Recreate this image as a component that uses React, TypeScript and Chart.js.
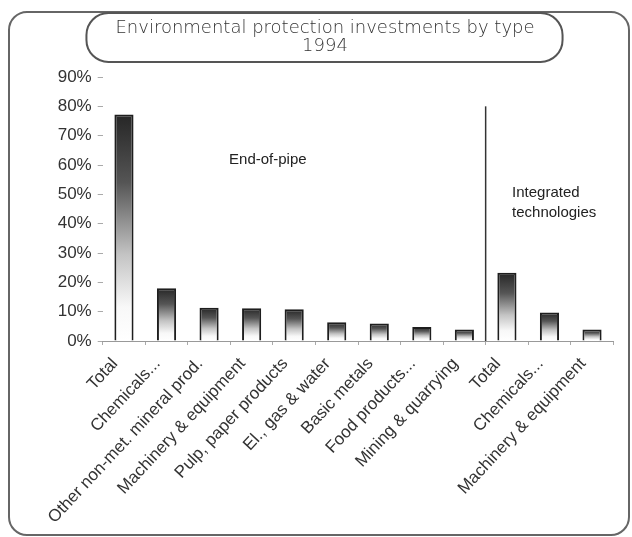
import { useEffect, useRef } from 'react';
import { Chart, registerables } from 'chart.js';

Chart.register(...registerables);

// ---- data ----
const categories = [
  'Total',
  'Chemicals...',
  'Other non-met. mineral prod.',
  'Machinery & equipment',
  'Pulp, paper products',
  'El., gas & water',
  'Basic metals',
  'Food products...',
  'Mining & quarrying',
  'Total',
  'Chemicals...',
  'Machinery & equipment',
];
const shares = [77.2, 18.0, 11.3, 11.2, 10.8, 6.4, 6.0, 4.8, 3.9, 23.3, 9.7, 3.9];
const endOfPipeCount = 9;
const yTickValues = [0, 10, 20, 30, 40, 50, 60, 70, 80, 90];
const titleLines = ['Environmental protection investments by type', '1994'];
const endOfPipeNote = ['End-of-pipe'];
const integratedNote = ['Integrated', 'technologies'];

const ARIAL = '"Liberation Sans", Arial, sans-serif';
const TITLE_FONT = '"DejaVu Sans", sans-serif';

const decorPlugin = {
  id: 'decor',
  beforeDraw(chart: any) {
    const ctx = chart.ctx;
    ctx.save();
    ctx.fillStyle = '#ffffff';
    ctx.fillRect(0, 0, chart.width, chart.height);
    ctx.strokeStyle = '#666';
    ctx.lineWidth = 2;
    ctx.beginPath();
    ctx.roundRect(9, 12, chart.width - 12, chart.height - 14, 18);
    ctx.stroke();
    ctx.restore();
  },
  afterDraw(chart: any) {
    const ctx = chart.ctx;
    const xs = chart.scales.x;
    const ys = chart.scales.y;
    ctx.save();
    // title pill
    const tb = chart.titleBlock;
    const cx = (tb.left + tb.right) / 2;
    ctx.font = `200 18px ${TITLE_FONT}`;
    const w = ctx.measureText(titleLines[0]).width;
    ctx.strokeStyle = '#555';
    ctx.lineWidth = 2;
    ctx.beginPath();
    ctx.roundRect(cx - w / 2 - 29, 13, w + 57, 49, 22);
    ctx.stroke();

    // separator line between the two groups
    const sx = xs.getPixelForValue(endOfPipeCount - 0.5);
    ctx.strokeStyle = '#333';
    ctx.lineWidth = 1.5;
    ctx.beginPath();
    ctx.moveTo(sx, ys.getPixelForValue(80));
    ctx.lineTo(sx, ys.getPixelForValue(0));
    ctx.stroke();

    // group notes
    ctx.fillStyle = '#222';
    ctx.font = `15px ${ARIAL}`;
    ctx.textAlign = 'left';
    ctx.textBaseline = 'middle';
    const drawNote = (lines: string[], xv: number, yv: number) => {
      const x = xs.getPixelForValue(xv);
      const y = ys.getPixelForValue(yv);
      lines.forEach((l, i) => ctx.fillText(l, x, y + i * 20));
    };
    drawNote(endOfPipeNote, 2.47, 61.7);
    drawNote(integratedNote, 9.12, 50.5);
    ctx.restore();
  },
};

function barGradient(c: any) {
  const chart = c.chart;
  const ys = chart.scales && chart.scales.y;
  if (!ys || c.type !== 'data' || typeof c.raw !== 'number') return '#ffffff';
  const top = ys.getPixelForValue(c.raw);
  const bot = ys.getPixelForValue(0);
  if (!isFinite(top) || !isFinite(bot) || bot - top < 1) return '#ffffff';
  const g = chart.ctx.createLinearGradient(0, top, 0, bot);
  g.addColorStop(0, '#262626');
  g.addColorStop(0.3, '#555555');
  g.addColorStop(0.62, '#c4c4c4');
  g.addColorStop(0.85, '#f8f8f8');
  g.addColorStop(1, '#ffffff');
  return g;
}

export default function App() {
  const ref = useRef<HTMLCanvasElement | null>(null);
  useEffect(() => {
    if (!ref.current) return;
    const chart = new Chart(ref.current, {
      type: 'bar',
      data: {
        labels: categories,
        datasets: [
          {
            data: shares,
            backgroundColor: barGradient as any,
            borderColor: '#1e1e1e',
            borderWidth: 2,
            borderSkipped: 'bottom',
            barPercentage: 0.45,
            categoryPercentage: 1,
          },
        ],
      },
      options: {
        animation: false,
        responsive: true,
        maintainAspectRatio: false,
        layout: { padding: { left: 36.7, right: 18.7, top: 0, bottom: 0 } },
        plugins: {
          legend: { display: false },
          tooltip: { enabled: false },
          title: {
            display: true,
            text: titleLines,
            color: '#333',
            font: { family: TITLE_FONT, size: 18, weight: '200' as any, lineHeight: 1 },
            padding: { top: 19, bottom: 22 },
          },
        },
        scales: {
          x: {
            grid: { display: true, drawOnChartArea: false, tickLength: 4, color: '#aaa', offset: true },
            border: { display: true, color: '#999', width: 1 },
            ticks: {
              autoSkip: false,
              minRotation: 47,
              maxRotation: 47,
              color: '#333',
              font: { family: ARIAL, size: 17 },
              padding: 9,
              labelOffset: -9,
            },
            afterFit: (s: any) => {
              s.height = 196;
            },
          },
          y: {
            min: 0,
            max: 90,
            afterBuildTicks: (s: any) => {
              s.ticks = yTickValues.map((v) => ({ value: v }));
            },
            ticks: {
              callback: (v: any) => `${v}%`,
              color: '#333',
              font: { family: ARIAL, size: 17 },
              padding: 6,
            },
            grid: { display: true, drawOnChartArea: false, tickLength: 5, color: '#aaa' },
            border: { display: false },
            afterFit: (s: any) => {
              s.width = 66;
            },
          },
        },
      },
      plugins: [decorPlugin],
    });
    return () => chart.destroy();
  }, []);
  return (
    <div style={{ position: 'fixed', left: 0, top: 0, width: 632, height: 537 }}>
      <canvas ref={ref} />
    </div>
  );
}
